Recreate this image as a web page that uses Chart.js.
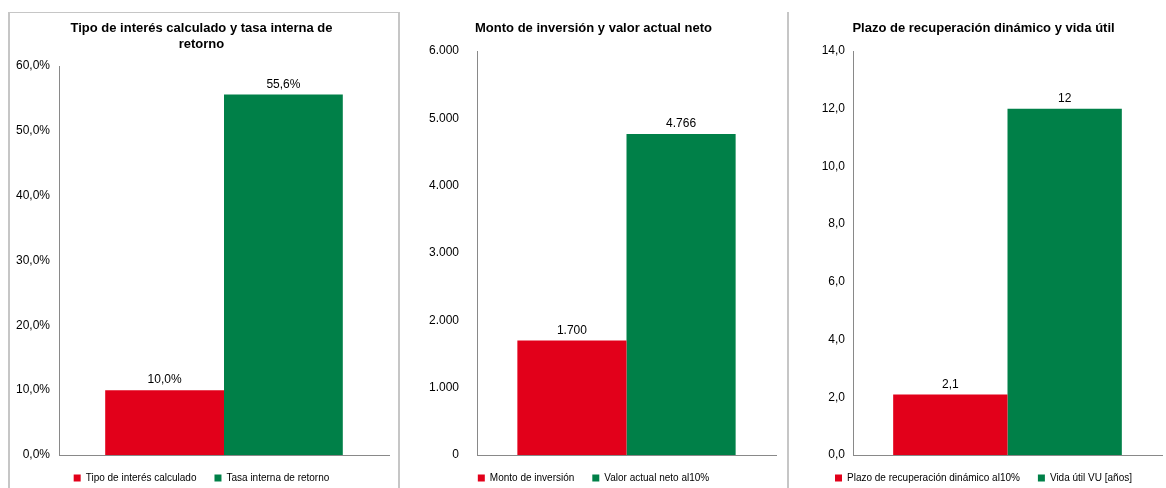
<!DOCTYPE html>
<html>
<head>
  <title>Indicadores de inversión</title>
  <script src="https://cdn.jsdelivr.net/npm/chart.js"></script>
  <style>
    body { margin: 0; background: #fff; overflow: hidden; width: 1166px; height: 488px; position: relative; }
    .panel { position: absolute; top: 13px; }
    .line { position: absolute; background: #c6c6c6; }
  </style>
</head>
<body>
  <div class="line" style="left:8px;top:12px;width:2px;height:476px"></div>
  <div class="line" style="left:8px;top:12px;width:391px;height:1px"></div>
  <div class="line" style="left:398px;top:12px;width:2px;height:476px"></div>
  <div class="line" style="left:787px;top:12px;width:2px;height:476px"></div>

  <div class="panel" style="left:10px"><canvas id="chart1" width="388" height="485"></canvas></div>
  <div class="panel" style="left:400px"><canvas id="chart2" width="387" height="485"></canvas></div>
  <div class="panel" style="left:789px"><canvas id="chart3" width="389" height="485"></canvas></div>

  <script>
    // chart 1: interest rate vs IRR (percent)
    const rateTitle = ['Tipo de interés calculado y tasa interna de', 'retorno'];
    const rateLabels = ['Tipo de interés calculado', 'Tasa interna de retorno'];
    const rateValues = [10.0, 55.6];

    // chart 2: investment vs NPV
    const investTitle = 'Monto de inversión y valor actual neto';
    const investLabels = ['Monto de inversión', 'Valor actual neto al10%'];
    const investValues = [1700, 4766];

    // chart 3: payback vs useful life
    const paybackTitle = 'Plazo de recuperación dinámico y vida útil';
    const paybackLabels = ['Plazo de recuperación dinámico al10%', 'Vida útil VU [años]'];
    const paybackValues = [2.1, 12];

    const colors = ['#e2001a', '#008048'];
    const FONT = 'Liberation Sans, Arial, sans-serif';

    const comma1 = v => v.toFixed(1).replace('.', ',');
    const thousands = v => String(Math.round(v)).replace(/\B(?=(\d{3})+(?!\d))/g, '.');

    // draws the value above each bar
    const valueLabels = {
      id: 'valueLabels',
      afterDatasetsDraw(chart, args, opts) {
        const ctx = chart.ctx;
        ctx.save();
        ctx.font = '12px ' + FONT;
        ctx.fillStyle = '#000';
        ctx.textAlign = 'center';
        ctx.textBaseline = 'middle';
        chart.data.datasets.forEach((ds, i) => {
          chart.getDatasetMeta(i).data.forEach((bar, j) => {
            ctx.fillText(opts.format(ds.data[j]), bar.x, bar.y - 10);
          });
        });
        ctx.restore();
      }
    };

    function makeChart(id, title, labels, values, cfg) {
      new Chart(document.getElementById(id), {
        type: 'bar',
        data: {
          labels: [''],
          datasets: labels.map((l, i) => ({
            label: l,
            data: [values[i]],
            backgroundColor: colors[i],
            barPercentage: 1,
            categoryPercentage: cfg.catPct
          }))
        },
        options: {
          responsive: false,
          animation: false,
          // side padding keeps title and legend centred on the panel
          layout: { padding: { left: cfg.left, right: cfg.right, top: 0, bottom: 5 } },
          scales: {
            x: {
              grid: { display: false, drawTicks: false },
              ticks: { display: false },
              border: { color: '#898989' }
            },
            y: {
              min: 0,
              max: cfg.max,
              afterFit: s => { s.width = cfg.axisWidth; },
              grid: { display: false, drawTicks: false },
              border: { color: '#898989' },
              ticks: {
                stepSize: cfg.step,
                padding: cfg.tickPad,
                color: '#000',
                font: { family: FONT, size: 12 },
                callback: cfg.tickFormat
              }
            }
          },
          plugins: {
            title: {
              display: true,
              text: title,
              color: '#000',
              font: { family: FONT, size: 13, weight: 'bold', lineHeight: 1.25 },
              padding: { top: 7, bottom: cfg.titleBottom }
            },
            legend: {
              position: 'bottom',
              labels: {
                boxWidth: 7,
                boxHeight: 7,
                padding: 18,
                color: '#000',
                font: { family: FONT, size: 10 }
              }
            },
            tooltip: { enabled: false },
            valueLabels: { format: cfg.valueFormat }
          }
        },
        plugins: [valueLabels]
      });
    }

    makeChart('chart1', rateTitle, rateLabels, rateValues, {
      max: 60, step: 10, left: 4, right: 9, axisWidth: 45, tickPad: 9, catPct: 0.72, titleBottom: 13.5,
      tickFormat: v => comma1(v) + '%',
      valueFormat: v => comma1(v) + '%'
    });

    makeChart('chart2', investTitle, investLabels, investValues, {
      max: 6000, step: 1000, left: 11, right: 11, axisWidth: 66, tickPad: 18, catPct: 0.73, titleBottom: 14.75,
      tickFormat: v => thousands(v),
      valueFormat: v => thousands(v)
    });

    makeChart('chart3', paybackTitle, paybackLabels, paybackValues, {
      max: 14, step: 2, left: 16, right: 16, axisWidth: 48, tickPad: 8, catPct: 0.74, titleBottom: 14.75,
      tickFormat: v => comma1(v),
      valueFormat: v => Number.isInteger(v) ? String(v) : comma1(v)
    });
  </script>
</body>
</html>
